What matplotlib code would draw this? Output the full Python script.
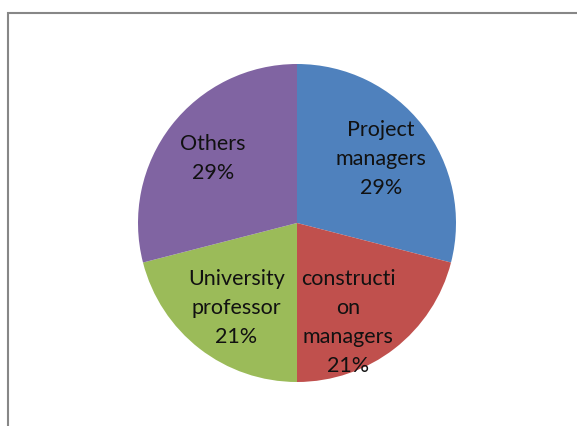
import matplotlib
matplotlib.use("Agg")
import matplotlib.pyplot as plt
from matplotlib.patches import Rectangle

# datos del grafico
categorias = ["Project\nmanagers", "constructi\non\nmanagers", "University\nprofessor", "Others"]
valores = [29, 21, 21, 29]
colores = ["#4F81BD", "#C0504D", "#9BBB59", "#8064A2"]

W, H = 577, 427
fig = plt.figure(figsize=(W / 100, H / 100), dpi=100)
fig.patch.set_facecolor("white")

# marco gris del area del grafico (recortado a la derecha y abajo)
fig.patches.append(Rectangle((8 / W, -0.1), 1.2, (H - 14) / H + 0.1, transform=fig.transFigure,
                             fill=False, edgecolor="#878787", linewidth=1.5))

# ejes cuadrados con el pie centrado en (297, 224) px, radio 159 px
cx, cy, r = 297, 224, 159
ax = fig.add_axes([(cx - r) / W, (H - cy - r) / H, 2 * r / W, 2 * r / H])

etiquetas = [f"{c}\n{v}%" for c, v in zip(categorias, valores)]
wedges, textos = ax.pie(valores, labels=etiquetas, colors=colores, startangle=90,
                        counterclock=False, labeldistance=0.67,
                        wedgeprops=dict(linewidth=0),
                        textprops=dict(family="Lato", fontsize=15.5, color="#111111",
                                       linespacing=1.55))
for t in textos:
    t.set_ha("center")
    t.set_va("center")

# ajuste fino de la etiqueta de construction (Excel la baja un poco)
x, y = textos[1].get_position()
textos[1].set_position((x - 0.09, y - 0.09))
x, y = textos[2].get_position()
textos[2].set_position((x + 0.03, y))

ax.set_xlim(-1, 1)
ax.set_ylim(-1, 1)
ax.set_aspect("equal")
ax.axis("off")

fig.savefig("out.png", dpi=100)
